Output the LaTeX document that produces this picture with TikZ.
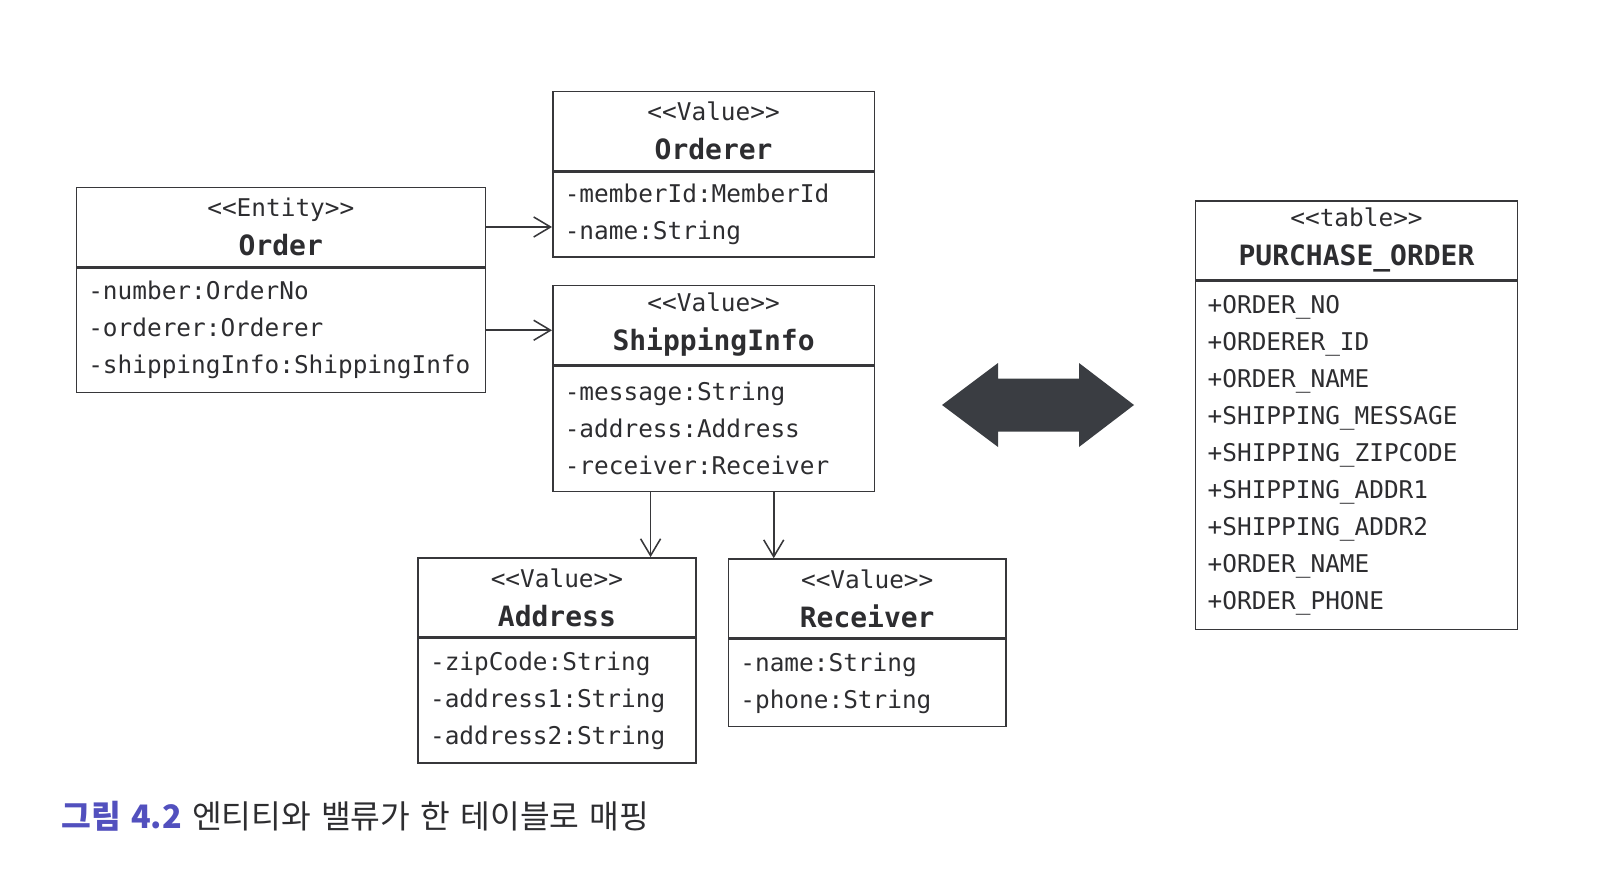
\documentclass[tikz,border=0pt]{standalone}
\usepackage{fontspec}
\setmonofont{DejaVu Sans Mono}
\newfontfamily\hangul[WordSpace=1.4]{Noto Sans CJK KR}
\usetikzlibrary{positioning,arrows.meta,calc}

\definecolor{umlline}{RGB}{55,55,58}
\definecolor{umltext}{RGB}{45,45,48}
\definecolor{capblue}{RGB}{82,80,190}
\definecolor{arrowgray}{RGB}{58,61,66}

% stereotype text, kern keeps << and >> apart
\newcommand\stereo[1]{<\kern0pt<#1>\kern0pt>}
\newcommand\umltitle[1]{{\fontsize{19.9}{27.7}\selectfont\bfseries #1}}

\tikzset{
  umlhead/.style={draw=umlline, line width=1.1pt, text=umltext, anchor=north west,
    inner xsep=0.3cm, inner ysep=0pt, minimum height=1.975cm, align=center,
    font=\fontsize{17.36}{27.7}\selectfont\ttfamily},
  umlbody/.style={draw=umlline, line width=1.1pt, text=umltext,
    inner xsep=0.3cm, inner ysep=0pt, align=left,
    font=\fontsize{17.36}{26.3}\selectfont\ttfamily},
  assoc/.style={draw=umlline, line width=1.1pt, -{Straight Barb[length=4.2mm,width=5mm]}}
}

\begin{document}
\begin{tikzpicture}[x=0.025cm,y=-0.025cm]
  \useasboundingbox (0,0) rectangle (1600,880);

  % entity
  \node[umlhead, text width=9.625cm] (ordHead) at (75.5,186.7)
    {\stereo{Entity}\\\umltitle{Order}};
  \node[umlbody, text width=9.625cm, minimum height=3.11cm, below=0pt of ordHead] (ordBody)
    {-number:OrderNo\\-orderer:Orderer\\-shippingInfo:ShippingInfo};

  % values
  \node[umlhead, text width=7.44cm] (ordererHead) at (552,90.8)
    {\stereo{Value}\\\umltitle{Orderer}};
  \node[umlbody, text width=7.44cm, minimum height=2.12cm, below=0pt of ordererHead] (ordererBody)
    {-memberId:MemberId\\-name:String};

  \node[umlhead, text width=7.44cm] (shipHead) at (552,284.7)
    {\stereo{Value}\\\umltitle{ShippingInfo}};
  \node[umlbody, text width=7.44cm, minimum height=3.14cm, below=0pt of shipHead] (shipBody)
    {-message:String\\-address:Address\\-receiver:Receiver};

  \node[umlhead, text width=6.34cm] (addrHead) at (417.3,557.1)
    {\stereo{Value}\\\umltitle{Address}};
  \node[umlbody, text width=6.34cm, minimum height=3.11cm, below=0pt of addrHead] (addrBody)
    {-zipCode:String\\-address1:String\\-address2:String};

  \node[umlhead, text width=6.34cm] (recvHead) at (727.6,558.2)
    {\stereo{Value}\\\umltitle{Receiver}};
  \node[umlbody, text width=6.34cm, minimum height=2.17cm, below=0pt of recvHead] (recvBody)
    {-name:String\\-phone:String};

  % table
  \node[umlhead, text width=7.44cm] (tableHead) at (1194.9,200)
    {\stereo{table}\\\umltitle{PURCHASE\_ORDER}};
  \node[umlbody, text width=7.44cm, minimum height=8.7cm, below=0pt of tableHead] (tableBody)
    {+ORDER\_NO\\+ORDERER\_ID\\+ORDER\_NAME\\+SHIPPING\_MESSAGE\\+SHIPPING\_ZIPCODE\\
     +SHIPPING\_ADDR1\\+SHIPPING\_ADDR2\\+ORDER\_NAME\\+ORDER\_PHONE};

  % associations
  \draw[assoc] (ordHead.east) -- (ordHead.east -| ordererBody.west);
  \draw[assoc] (ordBody.east) -- (ordBody.east -| shipHead.west);
  \coordinate (toAddr) at ($(shipBody.south west)!0.305!(shipBody.south east)$);
  \coordinate (toRecv) at ($(shipBody.south west)!0.686!(shipBody.south east)$);
  \draw[assoc] (toAddr) -- (toAddr |- addrHead.north);
  \draw[assoc] (toRecv) -- (toRecv |- recvHead.north);

  % mapping arrow
  \fill[arrowgray] (942,405) -- (998,363) -- (998,378.5) -- (1079,378.5) -- (1079,363)
    -- (1134,405) -- (1079,447) -- (1079,431.5) -- (998,431.5) -- (998,447) -- cycle;

  % caption
  \node[anchor=base west, inner sep=0pt, text=umltext,
    font=\fontsize{23}{27}\selectfont\hangul] (caption) at (61,828)
    {{\color{capblue}\bfseries 그림 4.2} 엔티티와 밸류가 한 테이블로 매핑};
\end{tikzpicture}
\end{document}
